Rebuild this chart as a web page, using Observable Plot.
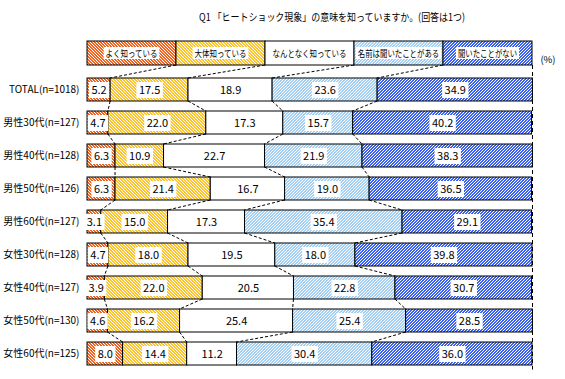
<!DOCTYPE html>
<html><head><meta charset="utf-8">
<script src="https://cdn.jsdelivr.net/npm/d3@7"></script>
<script src="https://cdn.jsdelivr.net/npm/@observablehq/plot@0.6"></script>
<style>
body{margin:0;background:#fff}
#chart svg{font-family:"Noto Sans CJK JP","Noto Sans",sans-serif;display:block}
</style>
</head><body><div id="chart"></div>
<script>
const title = "Q1 「ヒートショック現象」の意味を知っていますか。(回答は1つ)";
const unitLabel = "(%)";
const categories = ["よく知っている","大体知っている","なんとなく知っている","名前は聞いたことがある","聞いたことがない"];
const groups = ["TOTAL(n=1018)","男性30代(n=127)","男性40代(n=128)","男性50代(n=126)","男性60代(n=127)","女性30代(n=128)","女性40代(n=127)","女性50代(n=130)","女性60代(n=125)"];
const wellKnown = [5.2,4.7,6.3,6.3,3.1,4.7,3.9,4.6,8.0];
const roughlyKnown = [17.5,22.0,10.9,21.4,15.0,18.0,22.0,16.2,14.4];
const vaguelyKnown = [18.9,17.3,22.7,16.7,17.3,19.5,20.5,25.4,11.2];
const heardName = [23.6,15.7,21.9,19.0,35.4,18.0,22.8,25.4,30.4];
const neverHeard = [34.9,40.2,38.3,36.5,29.1,39.8,30.7,28.5,36.0];

const series = [wellKnown, roughlyKnown, vaguelyKnown, heardName, neverHeard];
const rows = [];
groups.forEach((g, i) => series.forEach((arr, k) => rows.push({group: g, cat: categories[k], value: arr[i]})));

const patterns = [
  {base: "#f2621c", stripe: "#ffffff", dir: "back"},
  {base: "#fcc42c", stripe: "#ffffff", dir: "back"},
  {base: "#ffffff", stripe: null, dir: "back"},
  {base: "#a4d0f6", stripe: "#ffffff", dir: "fwd"},
  {base: "#3a62ee", stripe: "#ffffff", dir: "fwd"}
];

const plot = Plot.plot({
  width: 565, height: 379,
  marginTop: 74, marginBottom: 9.5, marginLeft: 87, marginRight: 33,
  style: {fontSize: "10px", fontFamily: '"Noto Sans CJK JP","Noto Sans",sans-serif', color: "#000", background: "#fff"},
  x: {domain: [0, 100], axis: null},
  y: {domain: groups, paddingInner: 0.29, paddingOuter: 0, align: 0.5, label: null, tickSize: 0, tickPadding: 8},
  color: {domain: categories, range: categories.map((c, i) => `url(#pat${i})`)},
  marks: [
    Plot.ruleX([100], {stroke: "#000", strokeDasharray: "4,3", insetTop: -9}),
    Plot.barX(rows, Plot.stackX({x: "value", y: "group", fill: "cat", order: categories, stroke: "#000", strokeWidth: 1})),
    Plot.text(rows, Plot.stackX({x: "value", y: "group", z: "cat", order: categories, text: d => d.value.toFixed(1), fill: "#000", fontSize: 11}))
  ]
});
document.getElementById("chart").appendChild(plot);

const svg = d3.select(plot);
const ns = "http://www.w3.org/2000/svg";
const defs = svg.insert("defs", ":first-child");
patterns.forEach((p, i) => {
  const pat = defs.append("pattern").attr("id", `pat${i}`).attr("patternUnits", "userSpaceOnUse")
    .attr("width", 3).attr("height", 3);
  pat.append("rect").attr("width", 3).attr("height", 3).attr("fill", p.base);
  if (p.stripe) {
    for (let j = 0; j < 3; j++) {
      pat.append("rect").attr("x", p.dir === "back" ? j : 2 - j).attr("y", j)
        .attr("width", 1).attr("height", 1).attr("fill", p.stripe);
    }
  }
});

// white boxes behind value labels
svg.selectAll('g[aria-label="text"] text').each(function() {
  const bb = this.getBBox();
  const r = document.createElementNS(ns, "rect");
  const t = this.getAttribute("transform");
  if (t) r.setAttribute("transform", t);
  const cy = t ? 0 : +(this.getAttribute("y") || 0);
  r.setAttribute("x", bb.x - 2.5);
  r.setAttribute("y", cy - 8);
  r.setAttribute("width", bb.width + 5);
  r.setAttribute("height", 16);
  r.setAttribute("fill", "#fff");
  this.parentNode.insertBefore(r, this);
});

const xs = plot.scale("x"), ys = plot.scale("y");
const bw = ys.bandwidth;
const cum = groups.map((g, i) => { let s = 0; return series.slice(0, 4).map(a => (s += a[i])); });

const links = svg.append("g").attr("stroke", "#000").attr("stroke-dasharray", "3,2").attr("fill", "none");
for (let i = 0; i < groups.length - 1; i++) {
  for (let k = 0; k < 4; k++) {
    links.append("line")
      .attr("x1", xs.apply(cum[i][k])).attr("y1", ys.apply(groups[i]) + bw)
      .attr("x2", xs.apply(cum[i + 1][k])).attr("y2", ys.apply(groups[i + 1]));
  }
}

// legend (one box per category, spanning the plot width)
const legTop = 41, legBottom = 65;
const legX0 = xs.apply(0), legW = (xs.apply(100) - xs.apply(0)) / categories.length;
const leg = svg.append("g");
categories.forEach((c, i) => {
  const x = legX0 + i * legW;
  leg.append("rect").attr("x", x).attr("y", legTop).attr("width", legW).attr("height", legBottom - legTop)
    .attr("fill", `url(#pat${i})`).attr("stroke", "#000");
  const tl = c.length * 7.4;
  if (i !== 2) leg.append("rect").attr("x", x + legW / 2 - tl / 2 - 2).attr("y", 47).attr("width", tl + 4).attr("height", 12).attr("fill", "#fff");
  leg.append("text").attr("x", x + legW / 2).attr("y", 56.5).attr("text-anchor", "middle")
    .attr("font-size", 9.5).attr("textLength", tl).attr("lengthAdjust", "spacingAndGlyphs").text(c);
  if (i < 4) {
    links.append("line").attr("x1", x + legW).attr("y1", legBottom)
      .attr("x2", xs.apply(cum[0][i])).attr("y2", ys.apply(groups[0]));
  }
});
svg.append("text").attr("x", 548).attr("y", 63).attr("text-anchor", "middle").attr("font-size", 9.5).text(unitLabel);
svg.append("text").attr("x", 332).attr("y", 21).attr("text-anchor", "middle").attr("font-size", 10.5)
  .attr("textLength", 266).attr("lengthAdjust", "spacingAndGlyphs").text(title);
</script>
</body></html>
